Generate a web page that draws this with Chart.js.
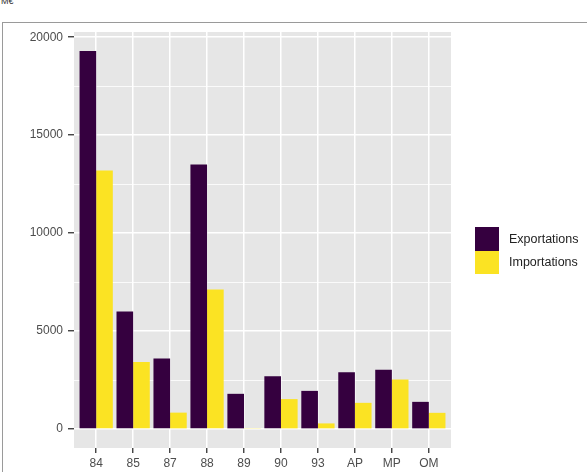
<!DOCTYPE html>
<html>
<head>
<meta charset="utf-8">
<script src="https://cdn.jsdelivr.net/npm/chart.js@4/dist/chart.umd.min.js"></script>
<style>
  html, body { margin:0; padding:0; background:#fff; }
  #wrap { position:relative; width:587px; height:472px; overflow:hidden; font-family:"Liberation Sans", Arial, sans-serif; }
  #frame { position:absolute; left:2px; top:22px; width:600px; height:500px; border-top:1.5px solid #9a9a9a; border-left:1.5px solid #9a9a9a; box-sizing:border-box; }
  #unit { position:absolute; left:1px; top:-4px; font-size:9px; color:#333; }
  canvas { position:absolute; left:0; top:0; }
  .lg { position:absolute; left:475px; display:flex; align-items:center; }
  .lg .key { width:24px; height:23.5px; }
  .lg .txt { margin-left:10px; font-size:12.5px; color:#222; }
</style>
</head>
<body>
<div id="wrap">
  <div id="unit">M€</div>
  <div id="frame"></div>
  <canvas id="c" width="587" height="472"></canvas>
  <div id="legend"></div>
</div>
<script>
const categories = ["84","85","87","88","89","90","93","AP","MP","OM"];
const exportations = [19300, 6000, 3600, 13500, 1800, 2700, 1950, 2900, 3030, 1390];
const importations = [13200, 3420, 840, 7120, 50, 1530, 290, 1340, 2530, 830];
const seriesNames = ["Exportations", "Importations"];
const seriesColors = ["#35003F", "#FBE323"];
const yMajorTicks = [0, 5000, 10000, 15000, 20000];
const yMinorTicks = [2500, 7500, 12500, 17500];

const allY = exportations.concat(importations);
const yMaxData = Math.max(...allY), yMinData = 0;
const yExp = (yMaxData - yMinData) * 0.05;

const panelBg = {
  id: 'panelBg',
  beforeDraw(chart) {
    const {ctx, chartArea:a} = chart;
    ctx.save();
    ctx.fillStyle = '#E6E6E6';
    ctx.fillRect(a.left, a.top, a.right - a.left, a.bottom - a.top);
    ctx.restore();
  }
};

const allYTicks = yMajorTicks.concat(yMinorTicks).sort((a,b)=>a-b);
const isMajor = v => yMajorTicks.includes(v);

new Chart(document.getElementById('c'), {
  type: 'bar',
  data: {
    datasets: [
      { label: seriesNames[0], backgroundColor: seriesColors[0], borderWidth: 0,
        data: categories.map((c,i)=>({x:i+1, y:exportations[i]})) },
      { label: seriesNames[1], backgroundColor: seriesColors[1], borderWidth: 0,
        data: categories.map((c,i)=>({x:i+1, y:importations[i]})) }
    ]
  },
  options: {
    responsive: false,
    animation: false,
    devicePixelRatio: 1,
    layout: { padding: { top: 32, right: 136, left: 0, bottom: 0 } },
    datasets: { bar: { categoryPercentage: 0.9, barPercentage: 1.0 } },
    plugins: { legend: { display: false }, tooltip: { enabled: false } },
    scales: {
      x: {
        type: 'linear',
        offset: false,
        min: 0.4, max: categories.length + 0.6,
        afterBuildTicks: s => { s.ticks = categories.map((c,i)=>({value:i+1})); },
        afterFit: s => { s.height = 24; },
        border: { display: false },
        grid: { offset: false, color: '#FFFFFF', lineWidth: 1.5, tickLength: 5, tickColor: '#333333', tickWidth: 1.3 },
        ticks: {
          autoSkip: false, maxRotation: 0, padding: 3,
          color: '#4D4D4D', font: { family: '"Liberation Sans", Arial, sans-serif', size: 12 },
          callback: v => categories[Math.round(v) - 1]
        }
      },
      y: {
        min: yMinData - yExp, max: yMaxData + yExp,
        afterBuildTicks: s => { s.ticks = allYTicks.map(v=>({value:v})); },
        afterFit: s => { s.width = 74; },
        border: { display: false },
        grid: {
          color: '#FFFFFF',
          lineWidth: ctx => isMajor(ctx.tick.value) ? 1.5 : 0.8,
          tickLength: 6,
          tickColor: ctx => isMajor(ctx.tick.value) ? '#333333' : 'rgba(0,0,0,0)',
          tickWidth: 1.3
        },
        ticks: {
          padding: 5,
          color: '#4D4D4D', font: { family: '"Liberation Sans", Arial, sans-serif', size: 12 },
          callback: v => isMajor(v) ? String(v) : ''
        }
      }
    }
  },
  plugins: [panelBg]
});

const lg = document.getElementById('legend');
const legendTops = [227, 250.5];
seriesNames.forEach((n,i)=>{
  const d = document.createElement('div');
  d.className = 'lg';
  d.style.top = legendTops[i] + 'px';
  d.innerHTML = '<div class="key" style="background:'+seriesColors[i]+'"></div><div class="txt">'+n+'</div>';
  lg.appendChild(d);
});
</script>
</body>
</html>
